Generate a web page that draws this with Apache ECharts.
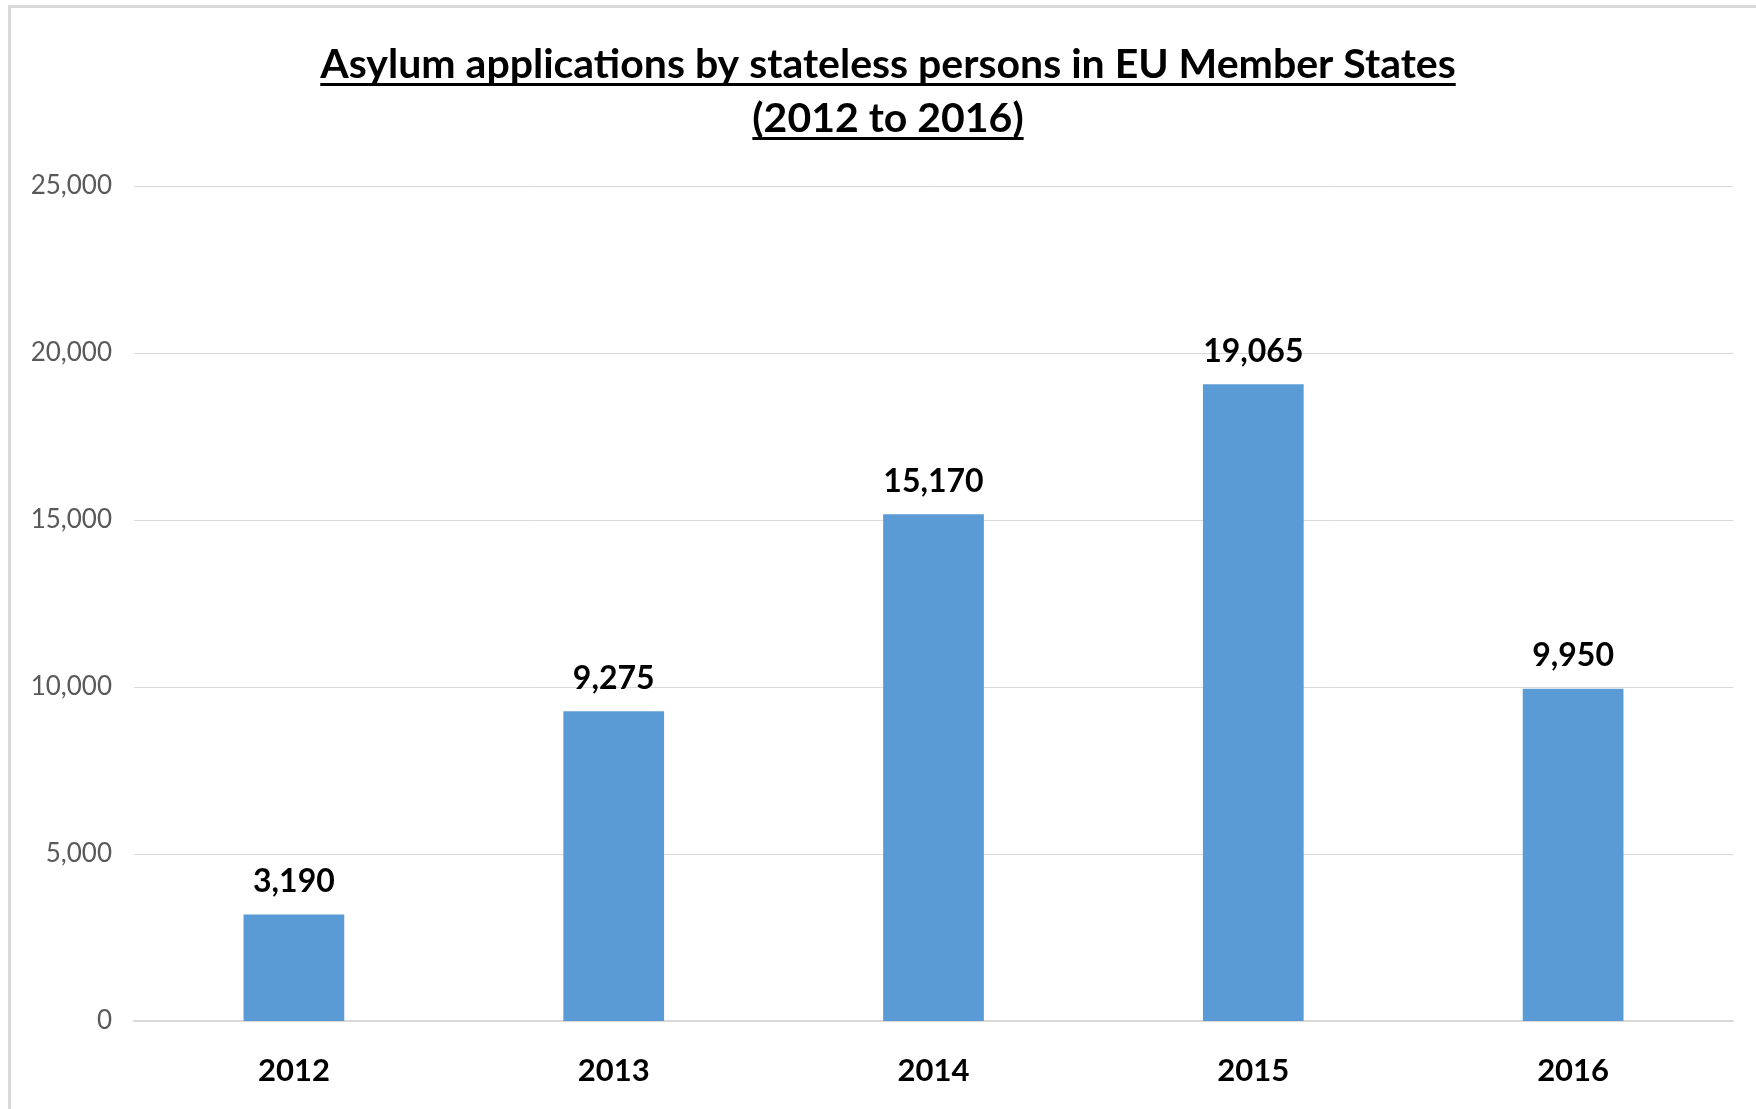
<!DOCTYPE html>
<html>
<head>
<meta charset="utf-8">
<script src="https://cdn.jsdelivr.net/npm/echarts@6/dist/echarts.min.js"></script>
<style>
  html, body { margin: 0; padding: 0; background: #fff; }
  #chart { width: 1756px; height: 1109px; }
</style>
</head>
<body>
<div id="chart"></div>
<script>
// data
var years = ["2012", "2013", "2014", "2015", "2016"];
var applications = [3190, 9275, 15170, 19065, 9950];
var yTicks = [0, 5000, 10000, 15000, 20000, 25000];

var titleLines = [
  "Asylum applications by stateless persons in EU Member States",
  "(2012 to 2016)"
];
var fontFamily = "Lato, 'Open Sans', sans-serif";
var titleFont = "bold 41px " + fontFamily;

// measure title text so the underline fits the words
function textWidth(str, font) {
  var c = document.createElement("canvas").getContext("2d");
  c.font = font;
  return c.measureText(str).width;
}

var centerX = 888;
var titleY = [65, 119];
var titleGraphics = [];
titleLines.forEach(function (line, i) {
  var w = textWidth(line, titleFont);
  titleGraphics.push({
    type: "text",
    x: centerX,
    y: titleY[i],
    style: {
      text: line,
      font: titleFont,
      fill: "#000",
      align: "center",
      verticalAlign: "middle"
    }
  });
  titleGraphics.push({
    type: "rect",
    shape: { x: centerX - w / 2, y: titleY[i] + 18, width: w, height: 3 },
    style: { fill: "#000" }
  });
});

var myEcharts = echarts.init(document.getElementById("chart"));
var option = {
  backgroundColor: "#fff",
  animation: false,
  textStyle: { fontFamily: fontFamily },
  grid: {
    left: 134,
    right: 23,
    top: 186,
    bottom: 88
  },
  xAxis: {
    type: "category",
    data: years,
    axisLine: { show: true, lineStyle: { color: "#d9d9d9", width: 2 } },
    axisTick: { show: false },
    axisLabel: {
      color: "#000",
      fontWeight: "bold",
      fontSize: 31,
      margin: 34
    }
  },
  yAxis: {
    type: "value",
    min: yTicks[0],
    max: yTicks[yTicks.length - 1],
    interval: yTicks[1] - yTicks[0],
    axisLine: { show: false },
    axisTick: { show: false },
    splitLine: { lineStyle: { color: "#d9d9d9", width: 1 } },
    axisLabel: {
      color: "#595959",
      fontSize: 26,
      margin: 22,
      formatter: function (v) { return v.toLocaleString("en-US"); }
    }
  },
  series: [
    {
      name: "Asylum applications",
      type: "bar",
      data: applications,
      barWidth: "31.5%",
      itemStyle: { color: "#5b9bd5" },
      label: {
        show: true,
        position: "top",
        distance: 17,
        color: "#000",
        fontWeight: "bold",
        fontSize: 32,
        formatter: function (p) { return p.value.toLocaleString("en-US"); }
      }
    }
  ],
  graphic: [
    { type: "rect", shape: { x: 8, y: 5, width: 1748, height: 3 }, style: { fill: "#d9d9d9" } },
    { type: "rect", shape: { x: 8, y: 5, width: 3, height: 1104 }, style: { fill: "#d9d9d9" } }
  ].concat(titleGraphics)
};
myEcharts.setOption(option);
window.addEventListener("resize", function () { myEcharts.resize(); });
</script>
</body>
</html>
